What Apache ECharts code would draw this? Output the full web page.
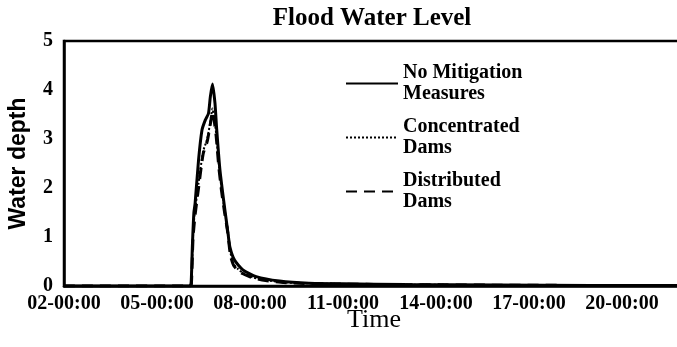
<!DOCTYPE html>
<html>
<head>
<meta charset="utf-8">
<script src="https://cdn.jsdelivr.net/npm/echarts@6/dist/echarts.min.js"></script>
<style>
html,body{margin:0;padding:0;background:#fff;}
#chart{width:677px;height:347px;}
</style>
</head>
<body>
<div id="chart"></div>
<script>
// Time in days (day-of-month), water depth values
const seriesNames = ['No Mitigation\nMeasures', 'Concentrated\nDams', 'Distributed\nDams'];
const xTickStart = 2, xTickStep = 3, xMax = 22;
const yTicks = [0, 1, 2, 3, 4, 5];

const noMitigation = [
  [2,0],[6.05,0],[6.1,0.05],[6.14,0.8],[6.19,1.5],[6.23,1.69],[6.34,2.57],[6.45,3.18],
  [6.56,3.39],[6.66,3.52],[6.72,3.86],[6.79,4.12],[6.87,3.73],[6.92,3.25],[7.03,2.37],
  [7.19,1.55],[7.29,1.08],[7.35,0.8],[7.5,0.53],[7.77,0.33],[8.2,0.19],[8.95,0.1],
  [9.9,0.055],[11,0.045],[13,0.03],[16,0.02],[19,0.012],[22,0.01]
];
const concentrated = [
  [2,0],[6.07,0],[6.11,0.05],[6.16,1.0],[6.21,1.45],[6.34,2.1],[6.49,2.75],[6.62,3.0],
  [6.72,3.35],[6.79,3.62],[6.84,3.45],[6.91,3.1],[6.99,2.5],[7.08,2.0],[7.18,1.55],
  [7.28,1.15],[7.37,0.68],[7.47,0.45],[7.62,0.34],[7.77,0.27],[8.12,0.17],[8.5,0.12],
  [9.0,0.08],[9.6,0.06],[11,0.04],[13,0.028],[16,0.018],[19,0.011],[22,0.008]
];
const distributed = [
  [2,0],[6.07,0],[6.11,0.05],[6.16,0.95],[6.22,1.4],[6.34,2.0],[6.49,2.7],[6.62,2.95],
  [6.72,3.3],[6.79,3.55],[6.84,3.4],[6.91,3.05],[6.99,2.45],[7.08,1.95],[7.18,1.5],
  [7.28,1.1],[7.37,0.62],[7.47,0.42],[7.62,0.31],[7.77,0.25],[8.12,0.16],[8.5,0.11],
  [9.0,0.075],[9.6,0.055],[11,0.038],[13,0.027],[16,0.017],[19,0.011],[22,0.008]
];

const serif = '"Liberation Serif", "Times New Roman", serif';
const sans = '"Liberation Sans", Arial, sans-serif';

function pad(n){ return (n < 10 ? '0' : '') + n; }

const chart = echarts.init(document.getElementById('chart'), null, {renderer:'canvas'});
chart.setOption({
  backgroundColor: '#fff',
  animation: false,
  title: {
    text: 'Flood Water Level',
    left: 367, top: 1, textAlign: 'center',
    textStyle: {fontFamily: serif, fontWeight: 'bold', fontSize: 25, color: '#000'}
  },
  legend: {
    orient: 'vertical',
    left: 345, top: 52,
    padding: 0,
    itemWidth: 52, itemHeight: 14,
    itemGap: -9,
    data: seriesNames,
    itemStyle: {opacity: 0},
    textStyle: {fontFamily: serif, fontWeight: 'bold', fontSize: 20, lineHeight: 21,
      color: '#000', padding: [21, 0, 0, 0]}
  },
  grid: {
    left: 64, top: 41, bottom: 61, width: (xMax - xTickStart) * 31,
    outerBoundsMode: 'none', containLabel: false,
    show: true, borderColor: '#000', borderWidth: 2.5, backgroundColor: 'transparent'
  },
  xAxis: {
    type: 'value', min: xTickStart, max: xMax, interval: xTickStep,
    name: 'Time', nameLocation: 'middle', nameGap: 21, nameMoveOverlap: false,
    nameTextStyle: {fontFamily: serif, fontSize: 26, color: '#000'},
    axisLine: {show: true, lineStyle: {color: '#000', width: 2.5}},
    axisTick: {show: false},
    splitLine: {show: false},
    axisLabel: {
      showMaxLabel: false, margin: 8,
      fontFamily: serif, fontWeight: 'bold', fontSize: 20, color: '#000',
      formatter: v => pad(v) + '-00:00'
    }
  },
  yAxis: {
    type: 'value', min: yTicks[0], max: yTicks[yTicks.length - 1], interval: 1,
    name: 'Water depth', nameLocation: 'middle', nameGap: 34, nameMoveOverlap: false,
    nameTextStyle: {fontFamily: sans, fontWeight: 'bold', fontSize: 23, color: '#000'},
    axisLine: {show: true, lineStyle: {color: '#000', width: 2.5}},
    axisTick: {show: false},
    splitLine: {show: false},
    axisLabel: {margin: 11, fontFamily: serif, fontWeight: 'bold', fontSize: 20, color: '#000'}
  },
  series: [
    {name: seriesNames[0], type: 'line', data: noMitigation, showSymbol: false, symbol: 'none',
      smooth: 0.2, lineStyle: {color: '#000', width: 3, type: 'solid'}, itemStyle: {color: '#000'}, z: 3},
    {name: seriesNames[1], type: 'line', data: concentrated, showSymbol: false, symbol: 'none',
      smooth: 0.2, lineStyle: {color: '#000', width: 2, type: [2, 2]}, itemStyle: {color: '#000'}, z: 2},
    {name: seriesNames[2], type: 'line', data: distributed, showSymbol: false, symbol: 'none',
      smooth: 0.2, lineStyle: {color: '#000', width: 3, type: [11, 7]}, itemStyle: {color: '#000'}, z: 2}
  ]
});
</script>
</body>
</html>
